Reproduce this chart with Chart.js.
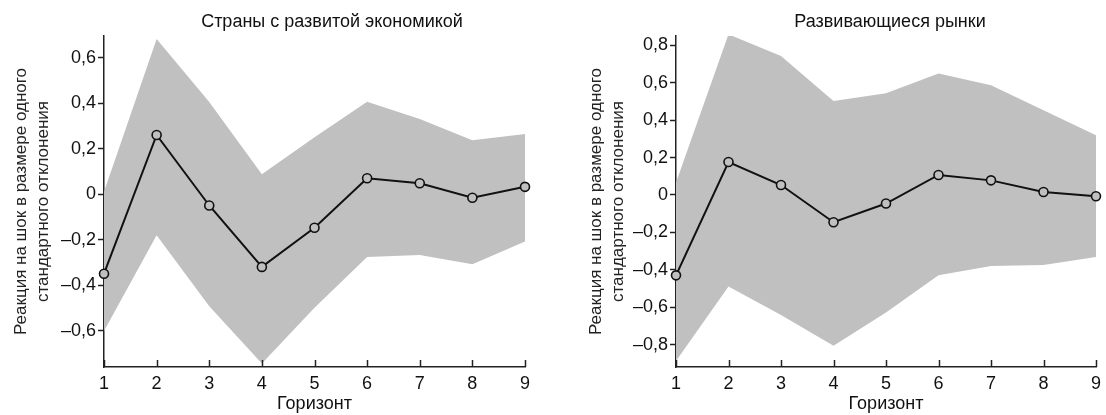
<!DOCTYPE html>
<html>
<head>
<meta charset="utf-8">
<script src="https://cdn.jsdelivr.net/npm/chart.js@4.4.1/dist/chart.umd.min.js"></script>
<style>
  html, body { margin: 0; padding: 0; background: #fff; }
  #wrap { position: relative; width: 1106px; height: 415px; }
  #wrap canvas { position: absolute; top: 0; }
</style>
</head>
<body>
<div id="wrap">
  <canvas id="chartAdv" width="553" height="415" style="left:0"></canvas>
  <canvas id="chartEm" width="553" height="415" style="left:553px"></canvas>
</div>
<script>
// горизонт 1..9
const horizons = ['1', '2', '3', '4', '5', '6', '7', '8', '9'];

// Страны с развитой экономикой
const advResponse = [-0.35, 0.26, -0.05, -0.32, -0.148, 0.07, 0.048, -0.016, 0.032];
const advUpper = [0.01, 0.682, 0.405, 0.087, 0.25, 0.406, 0.33, 0.237, 0.264];
const advLower = [-0.602, -0.181, -0.493, -0.745, -0.50, -0.276, -0.268, -0.308, -0.208];

// Развивающиеся рынки
const emResponse = [-0.43, 0.176, 0.053, -0.146, -0.046, 0.107, 0.078, 0.016, -0.007];
const emUpper = [0.066, 0.859, 0.743, 0.503, 0.544, 0.649, 0.586, 0.453, 0.319];
const emLower = [-0.888, -0.49, -0.642, -0.807, -0.629, -0.43, -0.38, -0.374, -0.332];

const yTitle = ['Реакция на шок в размере одного', 'стандартного отклонения'];
const xTitle = 'Горизонт';

Chart.defaults.font.family = "'Liberation Sans', Arial, sans-serif";
Chart.defaults.font.size = 18;
Chart.defaults.color = '#111';

const BAND = '#c0c0c0';
const AXIS = '#222';

function fmtTick(v) {
    const r = Math.round(v * 10) / 10;
    if (r === 0) return '0';
    return (r < 0 ? '\u2013' : '') + Math.abs(r).toFixed(1).replace('.', ',');
}

// x ticks point up into the plot
const innerTicks = {
    id: 'innerTicks',
    afterDraw(chart) {
        const { ctx, chartArea } = chart;
        const x = chart.scales.x;
        ctx.save();
        ctx.strokeStyle = AXIS;
        ctx.lineWidth = 1.5;
        x.ticks.forEach((t, i) => {
            const px = Math.round(x.getPixelForTick(i)) + 0.5;
            ctx.beginPath();
            ctx.moveTo(px, chartArea.bottom);
            ctx.lineTo(px, chartArea.bottom - 7);
            ctx.stroke();
        });
        ctx.restore();
    }
};

// panel title
const panelTitle = {
    id: 'panelTitle',
    afterDraw(chart, args, opts) {
        const ctx = chart.ctx;
        ctx.save();
        ctx.font = "18px 'Liberation Sans', Arial, sans-serif";
        ctx.fillStyle = '#111';
        ctx.textAlign = 'center';
        ctx.textBaseline = 'middle';
        ctx.fillText(opts.text, opts.x, 22);
        ctx.restore();
    }
};

function renderPanel(elementId, title, titleX, response, upper, lower, yMin, yMax, padLeft, yWidth, padRight) {
    const ctx = document.getElementById(elementId);
    new Chart(ctx, {
        type: 'line',
        data: {
            labels: horizons,
            datasets: [
                {
                    data: response,
                    borderColor: '#111',
                    borderWidth: 2,
                    pointRadius: 4.5,
                    pointBorderWidth: 1.6,
                    pointBorderColor: '#111',
                    pointBackgroundColor: BAND,
                    fill: false,
                    tension: 0
                },
                {
                    data: upper,
                    borderWidth: 0,
                    pointRadius: 0,
                    backgroundColor: BAND,
                    fill: '+1',
                    tension: 0
                },
                {
                    data: lower,
                    borderWidth: 0,
                    pointRadius: 0,
                    fill: false,
                    tension: 0
                }
            ]
        },
        options: {
            responsive: false,
            animation: false,
            devicePixelRatio: 1,
            layout: { padding: { left: padLeft, right: padRight, top: 36, bottom: 0 } },
            plugins: {
                legend: { display: false },
                tooltip: { enabled: false },
                panelTitle: { text: title, x: titleX }
            },
            scales: {
                x: {
                    grid: { drawOnChartArea: false, drawTicks: false },
                    border: { display: true, color: AXIS, width: 1.5 },
                    ticks: { padding: 6, maxRotation: 0, color: '#111' },
                    title: { display: true, text: xTitle, padding: { top: 0, bottom: 0 }, color: '#111' },
                    afterFit(s) { s.height = 48; s.paddingLeft = 0; s.paddingRight = 0; }
                },
                y: {
                    min: yMin,
                    max: yMax,
                    grid: { drawOnChartArea: false, drawTicks: true, tickLength: 6, tickColor: AXIS, tickWidth: 1.5 },
                    border: { display: true, color: AXIS, width: 1.5 },
                    ticks: { stepSize: 0.2, includeBounds: false, padding: 2, color: '#111', callback: fmtTick },
                    title: {
                        display: true,
                        text: yTitle,
                        color: '#222',
                        font: { size: 17, lineHeight: 1.3 },
                        padding: { top: 6, bottom: 0 }
                    },
                    afterFit(s) { s.width = yWidth; s.paddingTop = 0; s.paddingBottom = 0; }
                }
            }
        },
        plugins: [innerTicks, panelTitle]
    });
}

renderPanel('chartAdv', 'Страны с развитой экономикой', 332, advResponse, advUpper, advLower, -0.76, 0.695, 4, 100, 28);
renderPanel('chartEm', 'Развивающиеся рынки', 337, emResponse, emUpper, emLower, -0.92, 0.85, 26, 97, 10);
</script>
</body>
</html>
